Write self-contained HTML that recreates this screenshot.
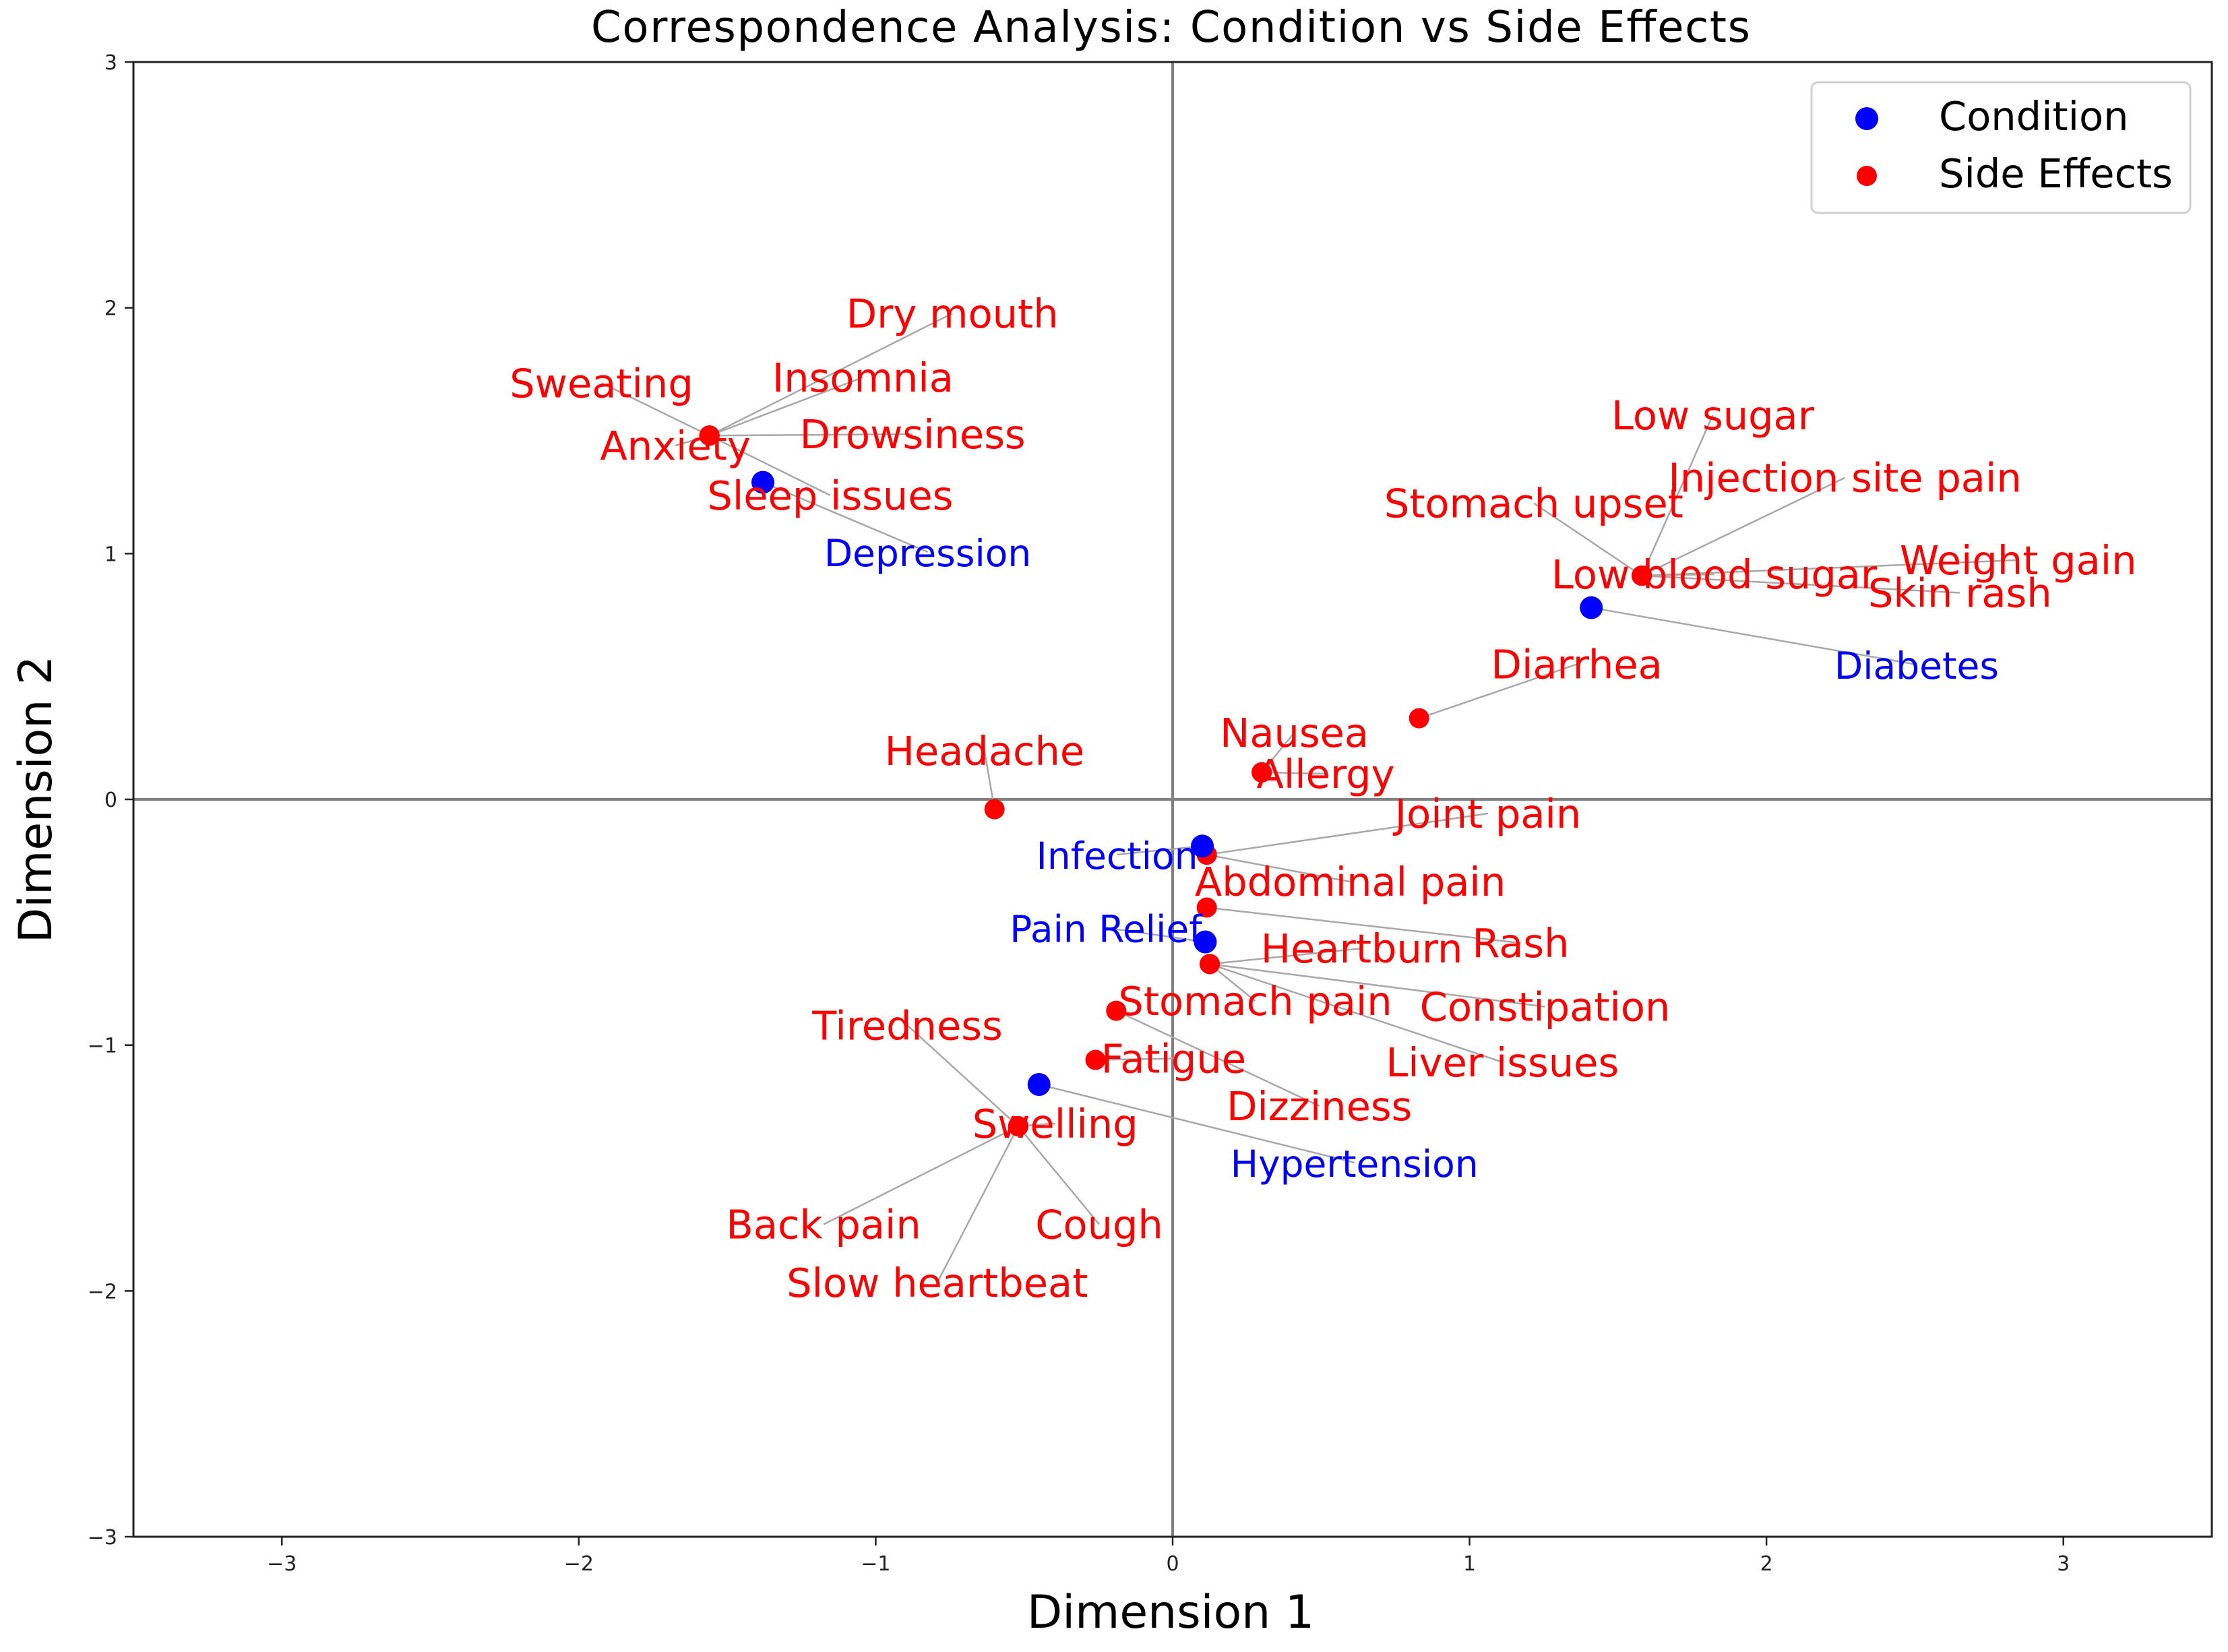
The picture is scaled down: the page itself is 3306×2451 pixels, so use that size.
<!DOCTYPE html>
<html><head><meta charset="utf-8">
<style>
html,body{margin:0;padding:0;background:#fff;}
svg{display:block;font-family:"DejaVu Sans","Liberation Sans",sans-serif;}
</style></head>
<body>
<svg id="chart" width="3306" height="2451" viewBox="0 0 3306 2451" xmlns="http://www.w3.org/2000/svg">
<rect width="3306" height="2451" fill="#fff"/>
<g id="gridg"></g>
<g id="linesg"></g>
<g id="pointsg"></g>
<g id="labelsg"></g>
<g id="axesg"></g>
<text x="1737" y="62" text-anchor="middle" font-size="64" textLength="1720" fill="#000">Correspondence Analysis: Condition vs Side Effects</text>
<text x="1737" y="2415" text-anchor="middle" font-size="68" fill="#000">Dimension 1</text>
<text x="0" y="0" transform="translate(76,1186) rotate(-90)" text-anchor="middle" font-size="68" fill="#000">Dimension 2</text>
<g>
<rect x="2688" y="122" width="562" height="194" rx="10" fill="#fff" stroke="#d0d0d0" stroke-width="3"/>
<circle cx="2770" cy="176" r="17" fill="#0000ff"/>
<text x="2877" y="193" font-size="59" fill="#000">Condition</text>
<circle cx="2770" cy="261" r="15" fill="#ff0000"/>
<text x="2877" y="278" font-size="59" fill="#000">Side Effects</text>
</g>
</svg>
<script>
// ---- data ----
const conditionNames = ["Depression","Diabetes","Infection","Pain Relief","Hypertension"];
const conditionX = [-1.38, 1.41, 0.10, 0.11, -0.45];
const conditionY = [1.29, 0.78, -0.19, -0.58, -1.16];

const effectNames = ["Dry mouth","Insomnia","Sweating","Anxiety","Drowsiness","Sleep issues",
  "Low sugar","Injection site pain","Stomach upset","Low blood sugar","Weight gain","Skin rash",
  "Diarrhea","Nausea","Allergy","Headache","Joint pain","Abdominal pain","Rash",
  "Heartburn","Constipation","Liver issues","Stomach pain","Dizziness","Fatigue",
  "Tiredness","Back pain","Slow heartbeat","Cough","Swelling"];
const effectX = [-1.56,-1.56,-1.56,-1.56,-1.56,-1.56,
  1.58,1.58,1.58,1.58,1.58,1.58,
  0.83,0.30,0.30,-0.60,0.115,0.115,0.115,
  0.125,0.125,0.125,0.125,-0.19,-0.26,
  -0.52,-0.52,-0.52,-0.52,-0.52];
const effectY = [1.48,1.48,1.48,1.48,1.48,1.48,
  0.91,0.91,0.91,0.91,0.91,0.91,
  0.33,0.11,0.11,-0.04,-0.225,-0.225,-0.44,
  -0.67,-0.67,-0.67,-0.67,-0.86,-1.06,
  -1.33,-1.33,-1.33,-1.33,-1.33];

const xTicks = [-3,-2,-1,0,1,2,3];
const yTicks = [-3,-2,-1,0,1,2,3];
const xTickLabels = ["\u22123","\u22122","\u22121","0","1","2","3"];
const yTickLabels = ["\u22123","\u22122","\u22121","0","1","2","3"];

// label layout offsets (px at display scale, relative to point) – layout, not data
const S = 2.108;
const conditionLabelOffset = [[116,49],[229,40],[-60,6],[-70,-10],[222,55]];
const effectLabelOffset = [[171,-86],[108,-41],[-76,-37],[-24,7],[143,-1],[85,42],
  [50,-113],[143,-69],[-76,-51],[51,-1],[265,-11],[224,12],
  [111,-38],[23,-28],[45,1],[-7,-41],[198,-29],[101,19],[221,25],
  [107,-11],[236,30],[206,69],[32,26],[143,67],[55,-1],
  [-78,-71],[-137,69],[-57,110],[57,69],[26,-2]];

// ---- axes ----
const L=198, R=3282, T=92, B=2280;
const XMIN=-3.5, XMAX=3.5, YMIN=-3, YMAX=3;
function X(v){return L+(v-XMIN)/(XMAX-XMIN)*(R-L);}
function Y(v){return B-(v-YMIN)/(YMAX-YMIN)*(B-T);}
const NS="http://www.w3.org/2000/svg";
function mk(tag,attrs,parent){const e=document.createElementNS(NS,tag);for(const k in attrs)e.setAttribute(k,attrs[k]);parent.appendChild(e);return e;}

const gridg=document.getElementById('gridg');
const linesg=document.getElementById('linesg');
const pointsg=document.getElementById('pointsg');
const labelsg=document.getElementById('labelsg');
const axesg=document.getElementById('axesg');

let z=mk('line',{x1:L,x2:R,y1:Y(0),y2:Y(0),stroke:'#808080','stroke-width':4},gridg);


z=mk('line',{x1:X(0),x2:X(0),y1:T,y2:B,stroke:'#808080','stroke-width':4},gridg);



const frame=mk('rect',{x:L,y:T,width:R-L,height:B-T,fill:'none',stroke:'#222','stroke-width':3},axesg);



xTicks.forEach((t,i)=>{
  const tk=mk('line',{x1:X(t),x2:X(t),y1:B,y2:B+13,stroke:'#222','stroke-width':2.5},axesg);
  
  
  const tl=mk('text',{x:X(t),y:B+50,'text-anchor':'middle','font-size':30,fill:'#222'},axesg);
  tl.textContent=xTickLabels[i];
  
  
});
yTicks.forEach((t,i)=>{
  const tk=mk('line',{x1:L-13,x2:L,y1:Y(t),y2:Y(t),stroke:'#222','stroke-width':2.5},axesg);
  
  
  const tl=mk('text',{x:L-24,y:Y(t)+11,'text-anchor':'end','font-size':30,fill:'#222'},axesg);
  tl.textContent=yTickLabels[i];
  
  
});

function drawSeries(names,xs,ys,offs,color,r,kind){
  names.forEach((n,i)=>{
    const px=X(xs[i]), py=Y(ys[i]);
    const lx=px+offs[i][0]*S, ly=py+offs[i][1]*S;
    const ln=mk('line',{x1:px,y1:py,x2:lx,y2:ly,stroke:'#a8a8a8','stroke-width':2.5},linesg);
    
    
    const c=mk('circle',{cx:px,cy:py,r:r,fill:color},pointsg);
    
    
    const t=mk('text',{x:lx,y:ly+21,'text-anchor':'middle','font-size':kind==='condition'?55:59,fill:color},labelsg);
    t.textContent=n;
    
    
  });
}
drawSeries(effectNames,effectX,effectY,effectLabelOffset,'#ff0000',15,'side-effect');
drawSeries(conditionNames,conditionX,conditionY,conditionLabelOffset,'#0000ff',17,'condition');
</script>
</body></html>
